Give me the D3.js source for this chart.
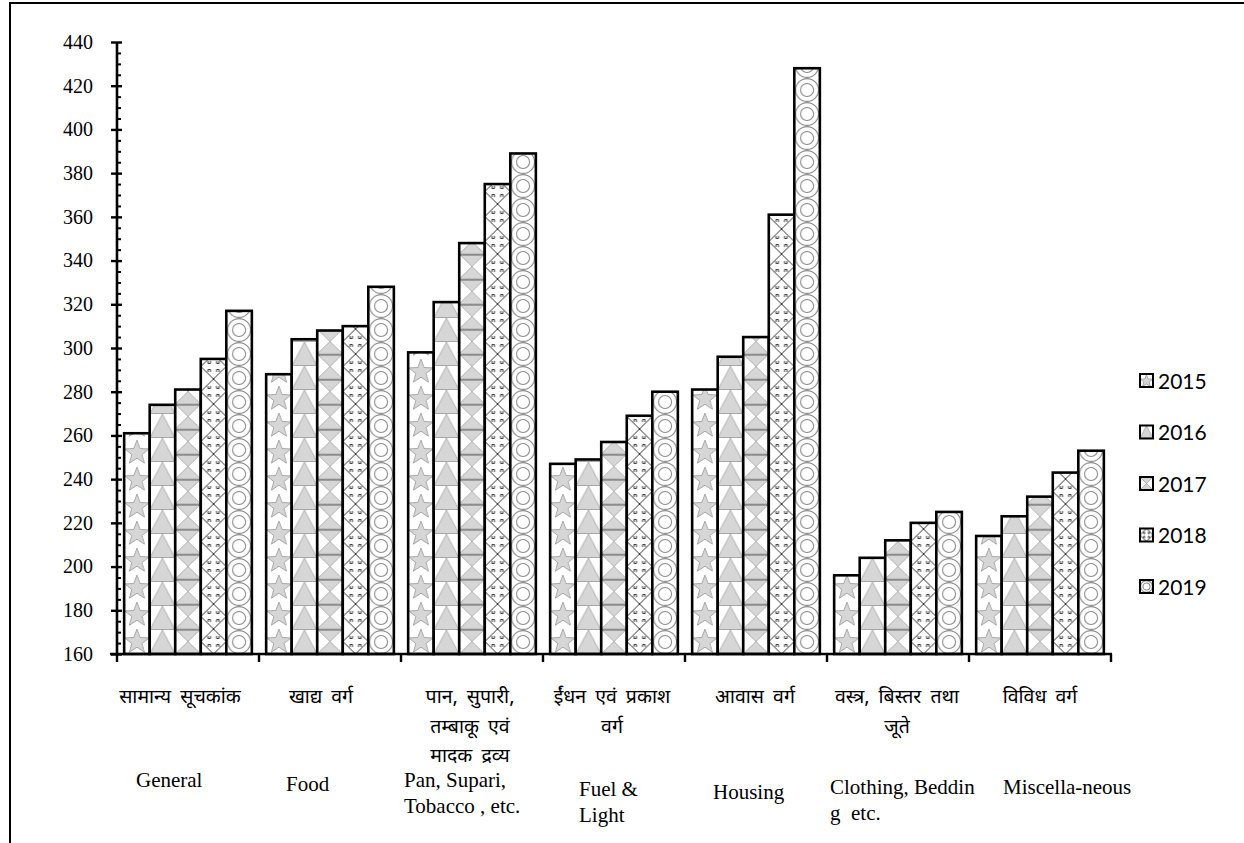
<!DOCTYPE html>
<html>
<head>
<meta charset="utf-8">
<script src="https://cdn.jsdelivr.net/npm/d3@7"></script>
<style>
body { margin: 0; background: #fff; }
svg { display: block; }
.hi { font-family: "Noto Sans Devanagari", "Noto Serif Devanagari", "Lohit Devanagari", "Mangal", "FreeSerif", serif; font-size: 19.5px; word-spacing: 4px; fill: #000; }
.en { font-family: "Liberation Serif", "Times New Roman", serif; font-size: 21px; fill: #000; }
.yt { font-family: "Liberation Serif", "Times New Roman", serif; font-size: 20px; fill: #000; }
</style>
</head>
<body>
<svg id="chart" width="1244" height="843"></svg>
<script>
var width = 1244;
var height = 843;

// categories (Hindi lines + English lines)
var categories = ["General", "Food", "Pan", "Fuel", "Housing", "Clothing", "Misc"];
var hindiLabels = [
    ["सामान्य सूचकांक"],
    ["खाद्य वर्ग"],
    ["पान, सुपारी,", "तम्बाकू एवं", "मादक द्रव्य"],
    ["ईंधन एवं प्रकाश", "वर्ग"],
    ["आवास वर्ग"],
    ["वस्त्र, बिस्तर तथा", "जूते"],
    ["विविध वर्ग"]
];
var englishLabels = [
    ["General"],
    ["Food"],
    ["Pan, Supari,", "Tobacco , etc."],
    ["Fuel &", "Light"],
    ["Housing"],
    ["Clothing, Beddin", "g  etc."],
    ["Miscella-neous"]
];
var years = ["2015", "2016", "2017", "2018", "2019"];

// index values per year, one per category
var v2015 = [261, 288, 298, 247, 281, 196, 214];
var v2016 = [274, 304, 321, 249, 296, 204, 223];
var v2017 = [281, 308, 348, 257, 305, 212, 232];
var v2018 = [295, 310, 375, 269, 361, 220, 243];
var v2019 = [317, 328, 389, 280, 428, 225, 253];
var series = [v2015, v2016, v2017, v2018, v2019];

var yMajorTicks = d3.range(160, 441, 20);

// label layout (offsets: Hindi from band centre, English from band start)
var hindiDx = [-8, -9, -2, -2, -1, -1, 0];
var englishDx = [19, 27, 3, 36, 28, 3, 34];
var englishDy = [787, 791, 787, 796, 799, 794, 794];

var svg = d3.select("#chart");
var defs = svg.append("defs");

// frame
svg.append("path")
    .attr("d", "M10," + height + " L10,3 L" + width + ",3")
    .attr("fill", "none").attr("stroke", "#000").attr("stroke-width", 2);

var x0 = d3.scaleBand().domain(categories).range([117, 1111]).paddingInner(0).paddingOuter(0);
var x1 = d3.scaleBand().domain(years).range([0, x0.bandwidth()]).paddingInner(0).paddingOuter(0.28);
var y = d3.scaleLinear().domain([160, 440]).range([654, 42]);

// pattern painters: draw one tile of size w x h into g
var gray = "#d6d6d6", dgray = "#8c8c8c";
function starPath(cx, cy, R, r) {
    var pts = [];
    for (var k = 0; k < 10; k++) {
        var a = -Math.PI / 2 + k * Math.PI / 5;
        var rr = k % 2 === 0 ? R : r;
        pts.push([cx + rr * Math.cos(a), cy + rr * Math.sin(a)]);
    }
    return "M" + pts.map(function(p) { return p[0].toFixed(2) + "," + p[1].toFixed(2) }).join("L") + "Z";
}
var painters = [
    function(g, w, h) { // stars
        g.append("path").attr("d", starPath(w / 2, h / 2 + h * 0.05, Math.min(w, h) * 0.5, Math.min(w, h) * 0.21))
            .attr("fill", gray).attr("stroke", dgray).attr("stroke-width", 0.7);
    },
    function(g, w, h) { // triangles
        g.append("path").attr("d", "M0," + h + " L" + w / 2 + ",0 L" + w + "," + h + "Z")
            .attr("fill", gray).attr("stroke", dgray).attr("stroke-width", 0.6);
        g.append("line").attr("x1", 0).attr("x2", w).attr("y1", h - 0.3).attr("y2", h - 0.3)
            .attr("stroke", dgray).attr("stroke-width", 0.6);
    },
    function(g, w, h) { // hourglass with lines
        g.append("path").attr("d", "M0,0 L" + w + ",0 L" + w / 2 + "," + h / 2 + "Z M0," + h + " L" + w + "," + h + " L" + w / 2 + "," + h / 2 + "Z")
            .attr("fill", gray).attr("stroke", dgray).attr("stroke-width", 0.6);
        g.append("rect").attr("x", 0).attr("y", 0).attr("width", w).attr("height", h * 0.07).attr("fill", dgray);
    },
    function(g, w, h) { // diamonds with hooks
        g.append("path").attr("d", "M0," + h / 2 + " L" + w / 2 + ",0 L" + w + "," + h / 2 + " L" + w / 2 + "," + h + "Z")
            .attr("fill", "#fff").attr("stroke", "#000").attr("stroke-width", 0.8);
        var cx = w / 2, cy = h / 2, s = w * 0.12, t = w * 0.22;
        var d = "";
        [[1, 1], [-1, 1], [1, -1], [-1, -1]].forEach(function(q) {
            var sx = q[0], sy = q[1];
            d += "M" + (cx + sx * s) + "," + (cy + sy * t) + " L" + (cx + sx * s) + "," + (cy + sy * s) +
                 " L" + (cx + sx * t) + "," + (cy + sy * s) + " L" + (cx + sx * t) + "," + (cy + sy * (s + t) / 1.6);
        });
        g.append("path").attr("d", d).attr("fill", "none").attr("stroke", "#000").attr("stroke-width", 0.8);
    },
    function(g, w, h) { // concentric circles
        g.append("circle").attr("cx", w / 2).attr("cy", h / 2).attr("r", Math.min(w, h) / 2 - 0.6)
            .attr("fill", "#fff").attr("stroke", dgray).attr("stroke-width", 1.1);
        g.append("circle").attr("cx", w / 2).attr("cy", h / 2).attr("r", Math.min(w, h) * 0.27)
            .attr("fill", "none").attr("stroke", dgray).attr("stroke-width", 1.1);
    }
];
var tileH = [27, 24, 25, 25, 24];

function makePattern(id, si, px, py, w, h) {
    var p = defs.append("pattern").attr("id", id)
        .attr("patternUnits", "userSpaceOnUse")
        .attr("x", px).attr("y", py).attr("width", w).attr("height", h);
    p.append("rect").attr("width", w).attr("height", h).attr("fill", "#fff");
    painters[si](p.append("g"), w, h);
}

// bars
var bw = x1.bandwidth();
categories.forEach(function(c, ci) {
    years.forEach(function(yr, si) {
        var bx = x0(c) + x1(yr);
        var val = series[si][ci];
        var id = "pat-" + ci + "-" + si;
        makePattern(id, si, bx, y(160), bw, tileH[si]);
        svg.append("rect")
            .attr("x", bx).attr("y", y(val))
            .attr("width", bw).attr("height", y(160) - y(val))
            .attr("fill", "url(#" + id + ")")
            .attr("stroke", "#000").attr("stroke-width", 2.6);
    });
});

// y axis
var gy = svg.append("g").attr("transform", "translate(117,0)");
gy.call(d3.axisLeft(y).tickValues(yMajorTicks).tickSizeInner(6).tickSizeOuter(0).tickPadding(18));
gy.attr("font-family", null).attr("font-size", null);
gy.select(".domain").remove();
gy.selectAll(".tick line").attr("stroke", "#000").attr("stroke-width", 2.4);
gy.selectAll(".tick").append("line").attr("x1", 0).attr("x2", 5).attr("stroke", "#000").attr("stroke-width", 2.4);
gy.selectAll(".tick text").attr("class", "yt").attr("fill", "#000");
var minor = d3.range(160, 441, 5).filter(function(v) { return v % 20 !== 0; });
var gm = svg.append("g").attr("transform", "translate(117,0)");
gm.call(d3.axisRight(y).tickValues(minor).tickSize(4).tickFormat(""));
gm.select(".domain").remove();
gm.selectAll(".tick line").attr("stroke", "#000").attr("stroke-width", 2);
svg.append("line").attr("x1", 117).attr("x2", 117).attr("y1", y(440)).attr("y2", y(160) + 1)
    .attr("stroke", "#000").attr("stroke-width", 2.6);

// x axis
svg.append("line").attr("x1", 110).attr("x2", 1112).attr("y1", y(160)).attr("y2", y(160))
    .attr("stroke", "#000").attr("stroke-width", 2.6);
var bounds = categories.map(function(c) { return x0(c); }).concat([x0.range()[1]]);
svg.selectAll(".xt").data(bounds).enter().append("line")
    .attr("x1", function(d) { return d; }).attr("x2", function(d) { return d; })
    .attr("y1", y(160)).attr("y2", y(160) + 8)
    .attr("stroke", "#000").attr("stroke-width", 2.4);

// category labels
categories.forEach(function(c, ci) {
    var t = svg.append("text").attr("class", "hi").attr("text-anchor", "middle");
    hindiLabels[ci].forEach(function(line, li) {
        t.append("tspan").attr("x", x0(c) + x0.bandwidth() / 2 + hindiDx[ci]).attr("y", 703 + li * 29.5).text(line);
    });
    var e = svg.append("text").attr("class", "en");
    englishLabels[ci].forEach(function(line, li) {
        e.append("tspan").attr("x", x0(c) + englishDx[ci]).attr("y", englishDy[ci] + li * 26)
            .attr("xml:space", "preserve").text(line);
    });
});

// legend
years.forEach(function(yr, si) {
    var ly = 381 + si * 51.5;
    var id = "leg-" + si;
    makePattern(id, si, 1140, ly - 7, 13, 13);
    svg.append("rect").attr("x", 1140).attr("y", ly - 7).attr("width", 13).attr("height", 13)
        .attr("fill", "url(#" + id + ")").attr("stroke", "#000").attr("stroke-width", 2);
    svg.append("text").attr("x", 1158).attr("y", ly).attr("dy", "0.36em")
        .attr("font-family", "Lato, Carlito, Calibri, sans-serif").attr("font-size", 21)
        .attr("fill", "#000").text(yr);
});
</script>
</body>
</html>
